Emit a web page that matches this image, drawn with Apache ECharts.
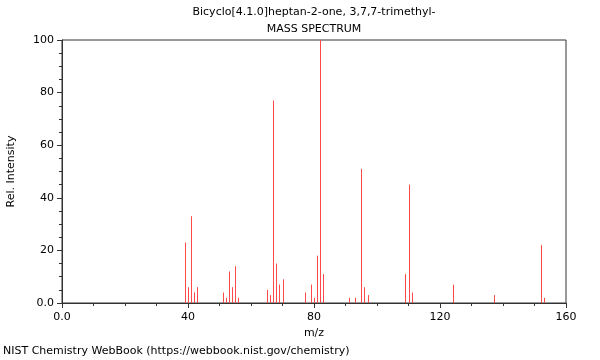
<!DOCTYPE html>
<html>
<head>
<meta charset="utf-8">
<script src="https://cdn.jsdelivr.net/npm/echarts@6/dist/echarts.min.js"></script>
<style>
html,body{margin:0;padding:0;background:#fff;}
#main{width:600px;height:360px;}
</style>
</head>
<body>
<div id="main"></div>
<script>
// m/z values and relative intensities
let mz=[39,40,41,42,43,51,52,53,54,55,56,65,66,67,68,69,70,77,79,80,81,82,83,91,93,95,96,97,109,110,111,124,137,152,153];
let intensity=[23,6,33,4,6,4,2,12,6,14,2,5,3,77,15,7,9,4,7,2,18,100,11,2,2,51,6,3,11,45,4,7,3,22,2];
let xTicks=[0,40,80,120,160];
let yTicks=[0,20,40,60,80,100];

let peaks=mz.map(function(m,i){return [m,intensity[i]];});
let font="DejaVu Sans";

var myChart=echarts.init(document.getElementById("main"));
var option={
    animation:false,
    backgroundColor:"#fff",
    textStyle:{fontFamily:font},
    title:[{
        text:"Bicyclo[4.1.0]heptan-2-one, 3,7,7-trimethyl-",
        left:314,top:7,textAlign:"center",padding:0,
        textStyle:{fontSize:11,fontWeight:"normal",color:"#000",fontFamily:font}
    },{
        text:"MASS SPECTRUM",
        left:314,top:24,textAlign:"center",padding:0,
        textStyle:{fontSize:11,fontWeight:"normal",color:"#000",fontFamily:font}
    },{
        text:"NIST Chemistry WebBook (https://webbook.nist.gov/chemistry)",
        left:3,top:346,padding:0,
        textStyle:{fontSize:11,fontWeight:"normal",color:"#000",fontFamily:font}
    }],
    grid:{left:62,right:34,top:40,bottom:57,outerBoundsMode:"none",containLabel:false,
        show:true,borderColor:"#333",borderWidth:1,backgroundColor:"transparent"},
    xAxis:{
        type:"value",min:0,max:160,interval:40,
        name:"m/z",nameLocation:"middle",nameGap:22,
        nameTextStyle:{fontSize:11,color:"#000",fontFamily:font},
        axisLine:{lineStyle:{color:"#333"}},
        axisTick:{show:true,length:5,lineStyle:{color:"#333"}},
        minorTick:{show:true,splitNumber:4,length:3,lineStyle:{color:"#333"}},
        splitLine:{show:false},
        axisLabel:{fontSize:11,color:"#000",margin:9,fontFamily:font,
            formatter:function(v){return v===0?"0.0":String(v);}}
    },
    yAxis:{
        type:"value",min:0,max:100,interval:20,
        name:"Rel. Intensity",nameLocation:"middle",nameGap:45,nameRotate:90,
        nameTextStyle:{fontSize:11,color:"#000",fontFamily:font},
        axisLine:{show:true,lineStyle:{color:"#333"}},
        axisTick:{show:true,length:5,lineStyle:{color:"#333"}},
        minorTick:{show:true,splitNumber:4,length:3,lineStyle:{color:"#333"}},
        splitLine:{show:false},
        axisLabel:{fontSize:11,color:"#000",margin:8,fontFamily:font,
            formatter:function(v){return v===0?"0.0":String(v);}}
    },
    series:[{
        type:"custom",
        data:peaks,
        renderItem:function(params,api){
            let base=api.coord([api.value(0),0]);
            let top=api.coord([api.value(0),api.value(1)]);
            let x=Math.round(base[0])+0.5;
            return {
                type:"line",
                shape:{x1:x,y1:base[1],x2:x,y2:top[1]},
                style:{stroke:"#ff4a4a",lineWidth:1}
            };
        }
    }]
};
myChart.setOption(option);
</script>
</body>
</html>
